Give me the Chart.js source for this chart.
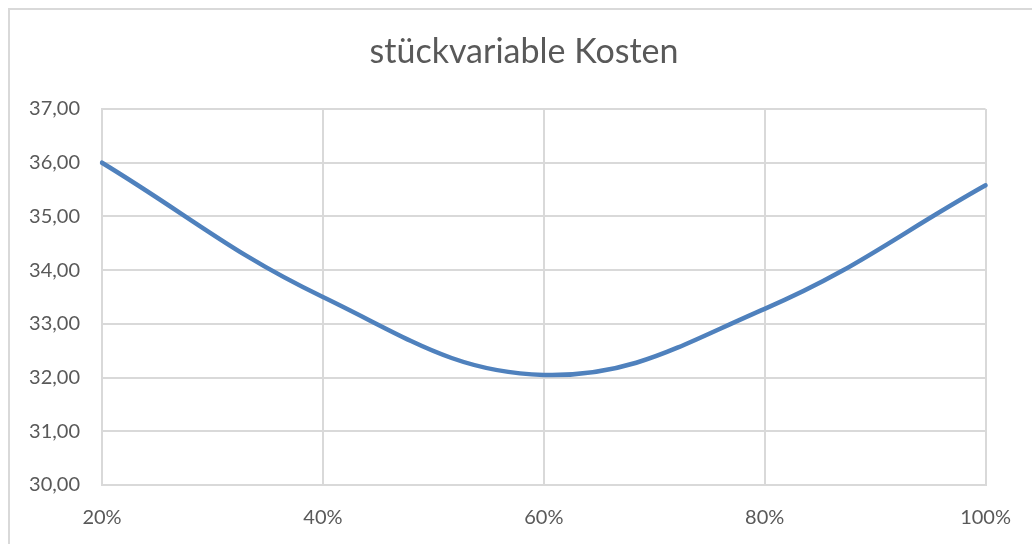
<!DOCTYPE html>
<html>
<head>
<meta charset="utf-8">
<script src="https://cdn.jsdelivr.net/npm/chart.js@4/dist/chart.umd.min.js"></script>
<style>
  html, body { margin: 0; padding: 0; background: #ffffff; }
  #wrap { position: relative; width: 1032px; height: 544px; }
  canvas { display: block; }
</style>
</head>
<body>
<div id="wrap"><canvas id="chart" width="1032" height="544"></canvas></div>
<script>
// Auslastung (x-Achse) und stückvariable Kosten je Stufe
const categories = ['20%', '40%', '60%', '80%', '100%'];
const kosten = [36.00, 33.50, 32.05, 33.28, 35.58];
const yMin = 30;
const yMax = 37;
const yStep = 1;
const chartTitle = 'stückvariable Kosten';

const textColor = '#595959';
const gridColor = '#D9D9D9';
const lineColor = '#4F81BD';
const fontFamily = 'Lato, "Open Sans", "Liberation Sans", sans-serif';

// Rahmen um das gesamte Diagramm und zentrierter Titel über dem Rahmen
const framePlugin = {
  id: 'frame',
  beforeDraw(chart) {
    const ctx = chart.ctx;
    ctx.save();
    ctx.fillStyle = '#ffffff';
    ctx.fillRect(0, 0, chart.width, chart.height);
    ctx.strokeStyle = gridColor;
    ctx.lineWidth = 2;
    ctx.strokeRect(9, 9, chart.width + 20, chart.height + 20);
    ctx.restore();
  },
  afterDraw(chart) {
    const ctx = chart.ctx;
    ctx.save();
    ctx.fillStyle = textColor;
    ctx.font = '34px ' + fontFamily;
    ctx.textAlign = 'center';
    ctx.textBaseline = 'middle';
    ctx.fillText(chartTitle, 524, 52);
    ctx.restore();
  }
};

new Chart(document.getElementById('chart'), {
  type: 'line',
  data: {
    labels: categories,
    datasets: [{
      label: chartTitle,
      data: kosten,
      borderColor: lineColor,
      borderWidth: 4.5,
      pointRadius: 0,
      tension: 0.4,
      fill: false,
      borderCapStyle: 'round'
    }]
  },
  options: {
    responsive: false,
    animation: false,
    devicePixelRatio: 1,
    layout: { padding: { left: 0, right: 45, top: 109, bottom: 0 } },
    plugins: {
      legend: { display: false },
      tooltip: { enabled: false },
      title: { display: false }
    },
    scales: {
      x: {
        type: 'category',
        offset: false,
        grid: { color: gridColor, lineWidth: 2, drawTicks: false },
        border: { color: gridColor, width: 2 },
        ticks: {
          color: textColor,
          font: { family: fontFamily, size: 20, lineHeight: 1.2 },
          padding: 21,
          maxRotation: 0
        },
        afterFit(scale) { scale.height = 59; }
      },
      y: {
        min: yMin,
        max: yMax,
        grid: { color: gridColor, lineWidth: 2, drawTicks: false },
        border: { color: gridColor, width: 2 },
        ticks: {
          stepSize: yStep,
          color: textColor,
          font: { family: fontFamily, size: 20 },
          padding: 22,
          callback: v => v.toFixed(2).replace('.', ',')
        },
        afterFit(scale) { scale.width = 102; }
      }
    }
  },
  plugins: [framePlugin]
});
</script>
</body>
</html>
